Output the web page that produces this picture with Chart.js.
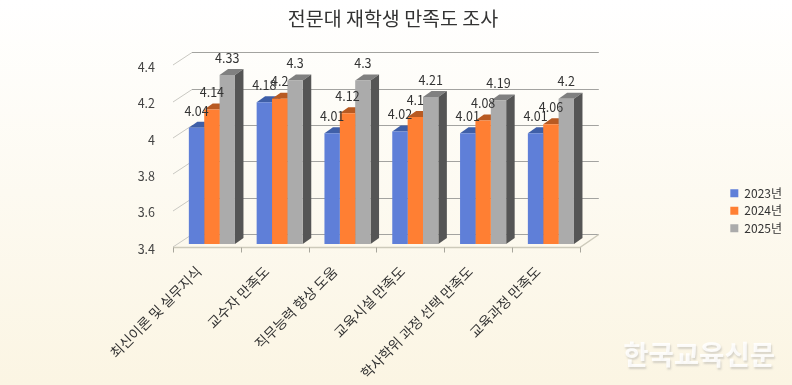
<!DOCTYPE html>
<html lang="ko">
<head>
<meta charset="utf-8">
<title>전문대 재학생 만족도 조사</title>
<script src="https://cdn.jsdelivr.net/npm/chart.js@4"></script>
<style>
  html, body { margin: 0; padding: 0; overflow: hidden; }
  body { width: 792px; height: 385px; background: linear-gradient(#ffffff, #fbf5e3); }
  canvas { display: block; }
</style>
</head>
<body>
<canvas id="chart" width="792" height="385"></canvas>
<script>
const categories = ["최신이론 및 실무지식", "교수자 만족도", "직무능력 향상 도움", "교육시설 만족도", "학사학위 과정 선택 만족도", "교육과정 만족도"];
const values2023 = [4.04, 4.18, 4.01, 4.02, 4.01, 4.01];
const values2024 = [4.14, 4.2, 4.12, 4.1, 4.08, 4.06];
const values2025 = [4.33, 4.3, 4.3, 4.21, 4.19, 4.2];
const seriesNames = ["2023년", "2024년", "2025년"];
const yMin = 3.4, yMax = 4.4, yStep = 0.2;

const FONT = '"Noto Sans CJK KR", "Noto Sans", sans-serif';
const topColors = ['#3f5fa8', '#b85a22', '#808080'];
const sideColors = ['#3a4f8a', '#9a4c1e', '#555555'];

// fake 3D look: the real chart area is the bar plane, the rest is drawn around it
const depth3d = {
    id: 'depth3d',
    beforeDatasetsDraw(chart) {
        const { ctx, scales: { x, y } } = chart;
        ctx.save();
        ctx.lineWidth = 1;
        // back wall lines and the left diagonals
        y.ticks.forEach(t => {
            const py = Math.round(y.getPixelForValue(t.value));
            ctx.strokeStyle = '#a3a3a0';
            ctx.beginPath();
            ctx.moveTo(x.left + 14, py - 9.5);
            ctx.lineTo(x.right + 14, py - 9.5);
            ctx.stroke();
            ctx.strokeStyle = '#c9c8c2';
            ctx.beginPath();
            ctx.moveTo(x.left - 5, py + 3);
            ctx.lineTo(x.left + 14, py - 9.5);
            ctx.stroke();
        });
        // floor front edge, right diagonal and ticks
        const base = y.bottom + 3.5;
        ctx.strokeStyle = '#cdcabb';
        ctx.lineWidth = 1.5;
        ctx.beginPath();
        ctx.moveTo(x.left - 5, base);
        ctx.lineTo(x.right - 5, base);
        ctx.lineTo(x.right + 14, y.bottom - 9.5);
        ctx.stroke();
        ctx.lineWidth = 1;
        ctx.strokeStyle = '#a8a69c';
        const band = x.width / categories.length;
        for (let i = 0; i <= categories.length; i++) {
            const px = Math.round(x.left - 5 + i * band) + 0.5;
            ctx.beginPath();
            ctx.moveTo(px, base);
            ctx.lineTo(px, base + 5);
            ctx.stroke();
        }
        // top and side faces of the bars
        const dx = 8.5, dy = 6;
        chart.data.datasets.forEach((ds, d) => {
            chart.getDatasetMeta(d).data.forEach(bar => {
                const l = bar.x - bar.width / 2, r = bar.x + bar.width / 2;
                ctx.fillStyle = topColors[d];
                ctx.beginPath();
                ctx.moveTo(l, bar.y);
                ctx.lineTo(l + dx, bar.y - dy);
                ctx.lineTo(r + dx, bar.y - dy);
                ctx.lineTo(r, bar.y);
                ctx.fill();
                ctx.fillStyle = sideColors[d];
                ctx.beginPath();
                ctx.moveTo(r, bar.y);
                ctx.lineTo(r + dx, bar.y - dy);
                ctx.lineTo(r + dx, y.bottom - dy);
                ctx.lineTo(r, y.bottom);
                ctx.fill();
            });
        });
        ctx.restore();
    },
    afterDatasetsDraw(chart) {
        const { ctx } = chart;
        ctx.save();
        // value labels
        ctx.font = '12.5px ' + FONT;
        ctx.fillStyle = '#333333';
        ctx.textAlign = 'center';
        ctx.textBaseline = 'middle';
        chart.data.datasets.forEach((ds, d) => {
            chart.getDatasetMeta(d).data.forEach((bar, i) => {
                ctx.fillText(String(ds.data[i]), bar.x, bar.y - 17);
            });
        });
        // watermark
        ctx.font = 'bold 27.5px ' + FONT;
        ctx.textAlign = 'right';
        ctx.fillStyle = 'rgba(255,255,255,0.85)';
        ctx.shadowColor = 'rgba(140,140,140,0.4)';
        ctx.shadowOffsetX = 1;
        ctx.shadowOffsetY = 2;
        ctx.shadowBlur = 2;
        ctx.fillText('한국교육신문', 775, 355);
        ctx.restore();
    }
};

new Chart(document.getElementById('chart'), {
    type: 'bar',
    data: {
        labels: categories,
        datasets: [
            { label: seriesNames[0], data: values2023, backgroundColor: '#5f7fd8' },
            { label: seriesNames[1], data: values2024, backgroundColor: '#ff7f33' },
            { label: seriesNames[2], data: values2025, backgroundColor: '#ababab' }
        ]
    },
    options: {
        responsive: false,
        animation: false,
        // left -6 only moves the title's centre to where the reference has it
        layout: { padding: { left: -6, right: 0 } },
        datasets: { bar: { barPercentage: 1, categoryPercentage: 0.68 } },
        plugins: {
            title: {
                display: true,
                text: '전문대 재학생 만족도 조사',
                color: '#333333',
                font: { family: FONT, size: 19.5, weight: 'normal' },
                padding: { top: 7, bottom: 32 }
            },
            legend: {
                position: 'right',
                // the empty title pushes the list down to the reference's height
                title: { display: true, text: '', font: { size: 12 }, padding: { top: 11, bottom: 11 } },
                labels: {
                    boxWidth: 8,
                    boxHeight: 8,
                    padding: 5.5,
                    color: '#333333',
                    font: { family: FONT, size: 12 }
                }
            },
            tooltip: { enabled: false }
        },
        scales: {
            x: {
                grid: { display: false },
                border: { display: false },
                ticks: {
                    color: '#333333',
                    font: { family: FONT, size: 14 },
                    minRotation: 45,
                    maxRotation: 45,
                    autoSkip: false,
                    padding: 11,
                    labelOffset: -13
                },
                afterFit(scale) { scale.height = 141; }
            },
            y: {
                min: yMin,
                max: yMax,
                grid: { display: false },
                border: { display: false },
                ticks: {
                    stepSize: yStep,
                    padding: 15,
                    labelOffset: 5,
                    color: '#444444',
                    font: { family: FONT, size: 12.5 },
                    callback: v => String(+v.toFixed(1))
                },
                afterFit(scale) { scale.width = 184; }
            },
            // keeps the empty strip between the plot and the legend
            spacer: {
                type: 'linear',
                position: 'right',
                grid: { display: false },
                border: { display: false },
                ticks: { display: false },
                afterFit(scale) { scale.width = 140; }
            }
        }
    },
    plugins: [depth3d]
});
</script>
</body>
</html>
